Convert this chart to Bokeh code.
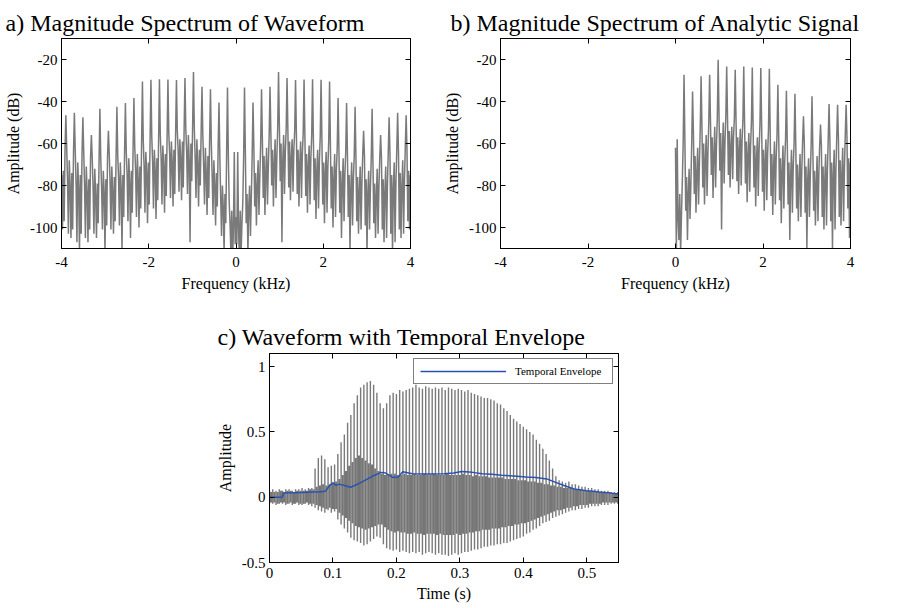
import numpy as np
from bokeh.plotting import figure
from bokeh.models import LinearAxis, FixedTicker, Range1d, Legend, LegendItem
from bokeh.layouts import column, row
from bokeh.embed import file_html
from bokeh.resources import INLINE

FONT = "Liberation Serif"
GREY = "#7a7a7a"

# ---------------- data: spectra ----------------
F0_KHZ = 0.195            # harmonic spacing (kHz)
BINS_PER_HARMONIC = 10    # frequency bins between successive harmonics

# harmonic peak levels (dB), harmonics 1..20, real waveform (panel a)
harm_peaks_a = [-33.3, -40.5, -34.2, -33.0, -26.0, -28.8, -29.8, -29.5, -29.4, -29.6,
                -30.5, -38.3, -40.7, -42.5, -54.0, -43.4, -56.0, -47.5, -45.4, -46.5]
# harmonic peak levels (dB), analytic signal (panel b)
harm_peaks_b = [-27.3, -35.2, -28.0, -27.3, -20.1, -23.3, -24.9, -23.3, -23.8, -24.0,
                -24.4, -32.0, -34.9, -36.3, -47.0, -37.5, -51.0, -41.2, -41.5, -41.5]
dc_a = -95.0
dc_b = -62.0
# in-between bins (dB) following the DC bin / each harmonic
floor_a = [
    [-108, -64, -100, -116, -92, -112, -98, -88, -66],
    [-64, -98, -84, -112, -90, -80, -104, -86, -66],
    [-62, -90, -74, -99, -80, -68, -94, -76, -60],
    [-58, -86, -66, -94, -74, -62, -89, -71, -56],
    [-55, -80, -63, -90, -70, -58, -86, -67, -53],
    [-52, -78, -60, -107, -68, -56, -84, -64, -53],
    [-54, -81, -59, -87, -67, -58, -83, -63, -54],
    [-56, -84, -63, -90, -69, -59, -86, -65, -55],
    [-57, -85, -65, -93, -71, -61, -89, -67, -56],
    [-59, -87, -67, -96, -73, -63, -91, -69, -57],
    [-58, -89, -69, -98, -74, -64, -93, -71, -59],
    [-61, -91, -71, -100, -77, -65, -95, -73, -62],
    [-63, -93, -73, -105, -79, -67, -97, -75, -64],
    [-65, -95, -75, -111, -81, -69, -99, -77, -66],
    [-67, -97, -76, -103, -83, -71, -101, -79, -65],
    [-66, -99, -77, -112, -83, -73, -101, -81, -67],
    [-69, -98, -79, -105, -85, -72, -103, -81, -67],
    [-67, -101, -77, -107, -83, -71, -105, -80, -64],
    [-65, -103, -75, -112, -81, -69, -107, -79, -63],
    [-64, -101, -74, -105, -80, -68, -103, -78, -62],
    [-63, -97, -73, -101, -75],
]
floor_b = [
    [-112, -58, -96, -106, -84, -112, -94, -78, -60],
    [-58, -92, -76, -106, -84, -72, -96, -80, -60],
    [-55, -84, -66, -93, -74, -62, -89, -70, -53],
    [-52, -81, -60, -89, -68, -56, -85, -65, -50],
    [-49, -75, -57, -86, -65, -52, -81, -61, -48],
    [-46, -73, -55, -101, -63, -50, -79, -59, -47],
    [-48, -75, -54, -81, -61, -52, -77, -57, -48],
    [-50, -78, -57, -84, -63, -53, -80, -59, -49],
    [-51, -79, -59, -88, -65, -55, -83, -61, -50],
    [-53, -81, -61, -90, -67, -57, -85, -63, -51],
    [-52, -83, -63, -92, -68, -58, -87, -65, -53],
    [-55, -85, -65, -94, -71, -59, -89, -67, -56],
    [-57, -87, -67, -98, -73, -61, -91, -69, -58],
    [-59, -89, -69, -106, -75, -63, -93, -71, -60],
    [-61, -91, -70, -97, -77, -65, -95, -73, -59],
    [-60, -93, -71, -110, -77, -67, -95, -75, -61],
    [-63, -92, -73, -99, -79, -66, -97, -75, -61],
    [-61, -95, -71, -101, -77, -65, -99, -74, -58],
    [-59, -97, -69, -110, -75, -63, -101, -73, -57],
    [-58, -95, -68, -99, -74, -62, -97, -72, -56],
    [-57, -91, -67, -105, -69],
]

freq_ticks = [-4, -2, 0, 2, 4]
freq_tick_labels = ["-4", "-2", "0", "2", "4"]
db_ticks = [-100, -80, -60, -40, -20]
db_tick_labels = ["-100", "-80", "-60", "-40", "-20"]

# ---------------- data: waveform ----------------
T0_S = 1.0 / 195.0   # pitch period (s)
pulse_top = [0.05, 0.06, 0.05, 0.06, 0.05, 0.06, 0.06, 0.05, 0.06, 0.06, 0.07, 0.06, 0.07, 0.07,
             0.22, 0.30, 0.32, 0.29, 0.23, 0.24, 0.25, 0.33, 0.42, 0.48, 0.57, 0.63, 0.72, 0.78,
             0.84, 0.86, 0.88, 0.89, 0.86, 0.80, 0.72, 0.68, 0.72, 0.78, 0.80, 0.79, 0.82, 0.81,
             0.82, 0.83, 0.84, 0.86, 0.84, 0.83, 0.85, 0.84, 0.83, 0.84, 0.83, 0.84, 0.82, 0.84,
             0.83, 0.82, 0.83, 0.82, 0.81, 0.82, 0.80, 0.79, 0.78, 0.77, 0.76, 0.76, 0.75, 0.74,
             0.72, 0.71, 0.68, 0.66, 0.63, 0.60, 0.58, 0.56, 0.54, 0.52, 0.50, 0.48, 0.44, 0.41,
             0.37, 0.33, 0.28, 0.22, 0.16, 0.13, 0.12, 0.11, 0.12, 0.10, 0.10, 0.09, 0.08, 0.08,
             0.07, 0.07, 0.06, 0.06, 0.05, 0.05, 0.05, 0.04, 0.04, 0.04]
pulse_bot = [-0.05, -0.05, -0.06, -0.05, -0.05, -0.06, -0.05, -0.06, -0.05, -0.06, -0.06, -0.05, -0.06, -0.07,
             -0.08, -0.10, -0.11, -0.12, -0.10, -0.12, -0.11, -0.17, -0.21, -0.24, -0.27, -0.31, -0.33, -0.34,
             -0.35, -0.37, -0.36, -0.34, -0.32, -0.30, -0.31, -0.36, -0.39, -0.40, -0.41, -0.40, -0.42, -0.41,
             -0.42, -0.43, -0.42, -0.43, -0.42, -0.44, -0.43, -0.42, -0.43, -0.44, -0.43, -0.44, -0.44, -0.45,
             -0.44, -0.43, -0.44, -0.43, -0.42, -0.42, -0.41, -0.40, -0.40, -0.39, -0.38, -0.38, -0.37, -0.37,
             -0.36, -0.36, -0.35, -0.35, -0.34, -0.33, -0.32, -0.31, -0.30, -0.28, -0.27, -0.25, -0.24, -0.22,
             -0.20, -0.19, -0.18, -0.16, -0.15, -0.14, -0.13, -0.12, -0.11, -0.10, -0.10, -0.09, -0.09, -0.08,
             -0.08, -0.07, -0.07, -0.07, -0.06, -0.06, -0.06, -0.05, -0.05, -0.05]
# secondary (inner) pulse extremes inside each period
inner_top = [0.04, 0.04, 0.04, 0.05, 0.04, 0.05, 0.05, 0.04, 0.05, 0.05, 0.05, 0.05, 0.06, 0.06,
             0.08, 0.09, 0.10, 0.09, 0.10, 0.11, 0.12, 0.14, 0.17, 0.20, 0.24, 0.27, 0.30, 0.32,
             0.30, 0.28, 0.26, 0.25, 0.22, 0.20, 0.18, 0.17, 0.17, 0.18, 0.18, 0.17, 0.17, 0.18,
             0.17, 0.17, 0.18, 0.17, 0.17, 0.18, 0.17, 0.17, 0.18, 0.17, 0.17, 0.17, 0.18, 0.17,
             0.17, 0.17, 0.17, 0.18, 0.17, 0.17, 0.16, 0.17, 0.16, 0.16, 0.16, 0.15, 0.15, 0.15,
             0.15, 0.15, 0.14, 0.14, 0.14, 0.14, 0.13, 0.13, 0.13, 0.12, 0.12, 0.12, 0.11, 0.11,
             0.10, 0.10, 0.09, 0.09, 0.08, 0.08, 0.07, 0.07, 0.07, 0.06, 0.06, 0.06, 0.05, 0.05,
             0.05, 0.05, 0.04, 0.04, 0.04, 0.04, 0.04, 0.03, 0.03, 0.03]
inner_bot = [-0.04, -0.04, -0.05, -0.04, -0.04, -0.05, -0.04, -0.05, -0.04, -0.05, -0.05, -0.04, -0.05, -0.05,
             -0.06, -0.07, -0.08, -0.09, -0.08, -0.09, -0.09, -0.12, -0.14, -0.16, -0.18, -0.20, -0.22, -0.23,
             -0.24, -0.25, -0.24, -0.23, -0.22, -0.21, -0.21, -0.23, -0.25, -0.26, -0.27, -0.26, -0.27, -0.27,
             -0.28, -0.28, -0.27, -0.28, -0.28, -0.29, -0.28, -0.28, -0.28, -0.29, -0.28, -0.29, -0.29, -0.29,
             -0.29, -0.28, -0.29, -0.28, -0.28, -0.27, -0.27, -0.26, -0.26, -0.25, -0.25, -0.25, -0.24, -0.24,
             -0.24, -0.23, -0.23, -0.22, -0.22, -0.21, -0.21, -0.20, -0.20, -0.19, -0.18, -0.17, -0.16, -0.15,
             -0.14, -0.13, -0.12, -0.11, -0.10, -0.10, -0.09, -0.08, -0.08, -0.07, -0.07, -0.06, -0.06, -0.06,
             -0.05, -0.05, -0.05, -0.05, -0.04, -0.04, -0.04, -0.04, -0.04, -0.04]
env_t = [0, 0.020, 0.022, 0.05, 0.08, 0.088, 0.095, 0.100, 0.105, 0.110, 0.118, 0.128, 0.143, 0.162,
         0.176, 0.183, 0.195, 0.203, 0.21, 0.225, 0.25, 0.275, 0.29, 0.303, 0.32, 0.335, 0.35, 0.366,
         0.385, 0.404, 0.42, 0.437, 0.45, 0.464, 0.48, 0.50, 0.52, 0.535, 0.55]
env_v = [0.0, 0.0, 0.032, 0.035, 0.042, 0.045, 0.09, 0.11, 0.09, 0.10, 0.09, 0.076, 0.11, 0.16,
         0.19, 0.185, 0.15, 0.155, 0.195, 0.18, 0.178, 0.18, 0.185, 0.197, 0.19, 0.18, 0.175, 0.168,
         0.162, 0.155, 0.15, 0.14, 0.115, 0.09, 0.063, 0.05, 0.04, 0.033, 0.025]

time_ticks = [0, 0.1, 0.2, 0.3, 0.4, 0.5]
time_tick_labels = ["0", "0.1", "0.2", "0.3", "0.4", "0.5"]
amp_ticks = [-0.5, 0, 0.5, 1]
amp_tick_labels = ["-0.5", "0", "0.5", "1"]


def assemble(dc, floors, peaks):
    vals = [dc]
    for k, fl in enumerate(floors):
        vals.extend(fl)
        if k < len(peaks):
            vals.append(peaks[k])
    return np.array(vals, dtype=float)


amp_a_pos = assemble(dc_a, floor_a, harm_peaks_a)
amp_b = assemble(dc_b, floor_b, harm_peaks_b)
freq_pos = np.arange(len(amp_a_pos)) * F0_KHZ / BINS_PER_HARMONIC
freq_a = np.concatenate([-freq_pos[:0:-1], freq_pos])
amp_a = np.concatenate([amp_a_pos[:0:-1], amp_a_pos])
freq_b = np.arange(len(amp_b)) * F0_KHZ / BINS_PER_HARMONIC
pulse_t = np.arange(len(pulse_top)) * T0_S
inner_t = pulse_t + T0_S / 2


def style_axis(ax, ticks, labels, show, label=None, standoff=4, label_standoff=4):
    ax.ticker = FixedTicker(ticks=ticks)
    ax.major_tick_in = 5
    ax.major_tick_out = 0
    ax.minor_tick_line_color = None
    ax.axis_line_color = "black"
    ax.major_tick_line_color = "black"
    ax.axis_line_width = 1
    ax.major_tick_line_width = 1
    if show:
        ax.major_label_overrides = {t: s for t, s in zip(ticks, labels)}
        ax.major_label_text_font = FONT
        ax.major_label_text_font_size = "15px"
        ax.major_label_text_color = "black"
        ax.major_label_standoff = standoff
        ax.axis_label = label
        ax.axis_label_text_font = FONT
        ax.axis_label_text_font_size = "16px"
        ax.axis_label_text_font_style = "normal"
        ax.axis_label_text_color = "black"
        ax.axis_label_standoff = label_standoff
    else:
        ax.major_label_text_color = None
        ax.major_label_text_font_size = "1px"
        ax.major_label_standoff = 0


def make_fig(title, width, height, xr, yr, borders, title_offset, title_standoff):
    l, r, t, b = borders
    p = figure(width=width, height=height, x_range=Range1d(*xr), y_range=Range1d(*yr),
               output_backend="svg", toolbar_location=None,
               min_border_left=l, min_border_right=r, min_border_top=t, min_border_bottom=b)
    p.grid.visible = False
    p.outline_line_color = "black"
    p.background_fill_color = "white"
    p.border_fill_color = "white"
    p.title.text = title
    p.title.text_font = FONT
    p.title.text_font_size = "24px"
    p.title.text_font_style = "normal"
    p.title.text_color = "black"
    p.title.align = "left"
    p.title.offset = title_offset
    p.title.standoff = title_standoff
    return p


def add_box_axes(p, xticks, xlabels, yticks, ylabels, xlab, ylab, xstd, xlstd, ystd, ylstd):
    style_axis(p.below[0], xticks, xlabels, True, xlab, xstd, xlstd)
    style_axis(p.left[0], yticks, ylabels, True, ylab, ystd, ylstd)
    top = LinearAxis()
    style_axis(top, xticks, xlabels, False)
    p.add_layout(top, "above")
    right = LinearAxis()
    style_axis(right, yticks, ylabels, False)
    p.add_layout(right, "right")


# ---- panel a ----
pa = make_fig("a) Magnitude Spectrum of Waveform", 440, 300, (-4, 4), (-110, -10),
              (61, 30, 38, 52), -56, 5)
pa.line(freq_a, amp_a, line_color=GREY, line_width=1.5)
add_box_axes(pa, freq_ticks, freq_tick_labels, db_ticks, db_tick_labels,
             "Frequency (kHz)", "Amplitude (dB)", 8, 5, 4, 5)

# ---- panel b ----
pb = make_fig("b) Magnitude Spectrum of Analytic Signal", 458, 300, (-4, 4), (-110, -10),
              (60, 48, 38, 52), -50, 5)
pb.line(freq_b, amp_b, line_color=GREY, line_width=1.5)
add_box_axes(pb, freq_ticks, freq_tick_labels, db_ticks, db_tick_labels,
             "Frequency (kHz)", "Amplitude (dB)", 8, 5, 4, 5)

# ---- panel c ----
pc = make_fig("c) Waveform with Temporal Envelope", 898, 308, (0, 0.55), (-0.5, 1.1),
              (269, 280, 53, 46), -52, 8)
pc.segment(x0=inner_t, y0=inner_bot, x1=inner_t, y1=inner_top, line_color="#767676", line_width=2.2)
pc.segment(x0=pulse_t, y0=pulse_bot, x1=pulse_t, y1=pulse_top, line_color=GREY, line_width=1.4)
env_r = pc.line(env_t, env_v, line_color="#2a52b0", line_width=1.5)
add_box_axes(pc, time_ticks, time_tick_labels, amp_ticks, amp_tick_labels,
             "Time (s)", "Amplitude", 5, 4, 4, 5)
legend = Legend(items=[LegendItem(label="Temporal Envelope", renderers=[env_r])],
                location="top_right", margin=5, padding=6, spacing=0,
                glyph_width=86, glyph_height=12, label_height=12, label_width=91,
                label_standoff=9, label_text_font=FONT, label_text_font_size="11px",
                label_text_color="black", border_line_color="black", border_line_width=1.2,
                background_fill_color="white", background_fill_alpha=1.0)
pc.add_layout(legend)

layout = column(row(pa, pb), pc)
open("out.html", "w").write(file_html(layout, INLINE))
